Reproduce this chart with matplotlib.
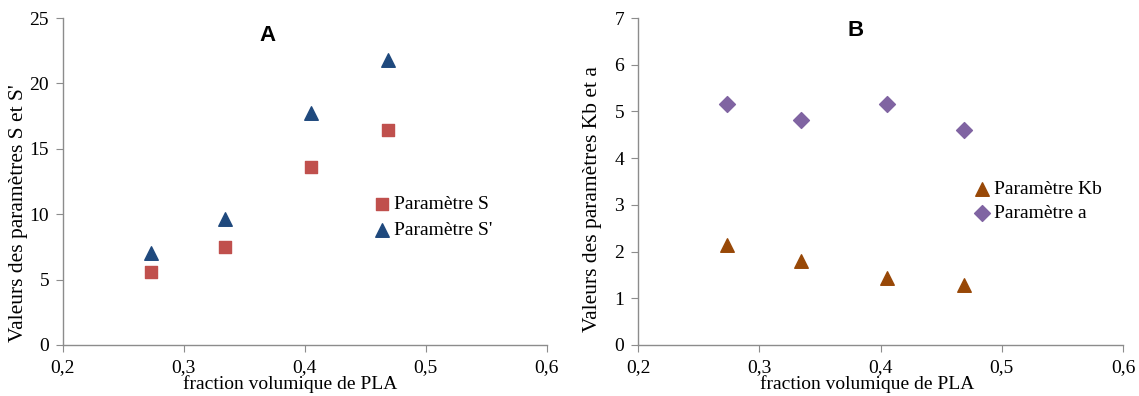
import matplotlib
matplotlib.use("Agg")
import matplotlib.pyplot as plt

# fraction volumique de PLA
frac_pla = [0.273, 0.334, 0.405, 0.469]

# panel A
param_s = [5.6, 7.5, 13.6, 16.4]
param_s_prime = [7.0, 9.6, 17.7, 21.8]

# panel B
param_kb = [2.13, 1.80, 1.44, 1.28]
param_a = [5.15, 4.82, 5.16, 4.61]

plt.rcParams['font.family'] = ['Liberation Serif', 'DejaVu Serif']

fig = plt.figure(figsize=(11.39, 3.96), dpi=100)
ax1 = fig.add_axes([0.0553, 0.129, 0.4247, 0.8255])
ax2 = fig.add_axes([0.5602, 0.129, 0.4258, 0.8255])

def style_axes(ax, ymax):
    for s in ['top', 'right']:
        ax.spines[s].set_visible(False)
    for s in ['left', 'bottom']:
        ax.spines[s].set_color('#8c8c8c')
        ax.spines[s].set_linewidth(1.0)
    ax.set_xlim(0.2, 0.6)
    ax.set_ylim(0, ymax)
    ax.set_xticks([0.2, 0.3, 0.4, 0.5, 0.6])
    ax.set_xticklabels(['0,2', '0,3', '0,4', '0,5', '0,6'])
    ax.tick_params(direction='out', length=5, color='#8c8c8c', labelsize=14, pad=5)
    ax.set_xlabel('fraction volumique de PLA', fontsize=14)

ax1.scatter(frac_pla, param_s, marker='s', s=85, color='#C0504D', label='Paramètre S')
ax1.scatter(frac_pla, param_s_prime, marker='^', s=95, color='#1F497D', label="Paramètre S'")
style_axes(ax1, 25)
ax1.set_yticks(range(0, 26, 5))
ax1.set_ylabel("Valeurs des paramètres S et S'", fontsize=15.5)
ax1.yaxis.set_label_coords(-0.072, 0.404)
ax1.xaxis.set_label_coords(0.469, -0.093)
ax1.text(0.369, 23.7, 'A', family='Liberation Sans', fontweight='bold', fontsize=16,
         ha='center', va='center')
ax1.legend(loc='upper left', bbox_to_anchor=(0.615, 0.487), frameon=False, fontsize=14,
           handletextpad=0.0, labelspacing=0.45, borderpad=0, handlelength=1.2)

ax2.scatter(frac_pla, param_kb, marker='^', s=95, color='#984807', label='Paramètre Kb')
ax2.scatter(frac_pla, param_a, marker='D', s=65, color='#8064A2', label='Paramètre a')
style_axes(ax2, 7)
ax2.set_yticks(range(0, 8))
ax2.set_ylabel('Valeurs des paramètres Kb et a', fontsize=15.5)
ax2.yaxis.set_label_coords(-0.074, 0.446)
ax2.xaxis.set_label_coords(0.472, -0.093)
ax2.text(0.379, 6.74, 'B', family='Liberation Sans', fontweight='bold', fontsize=16,
         ha='center', va='center')
ax2.legend(loc='upper left', bbox_to_anchor=(0.665, 0.533), frameon=False, fontsize=14,
           handletextpad=0.0, labelspacing=0.35, borderpad=0, handlelength=1.2)

fig.savefig('out.png', dpi=100)
